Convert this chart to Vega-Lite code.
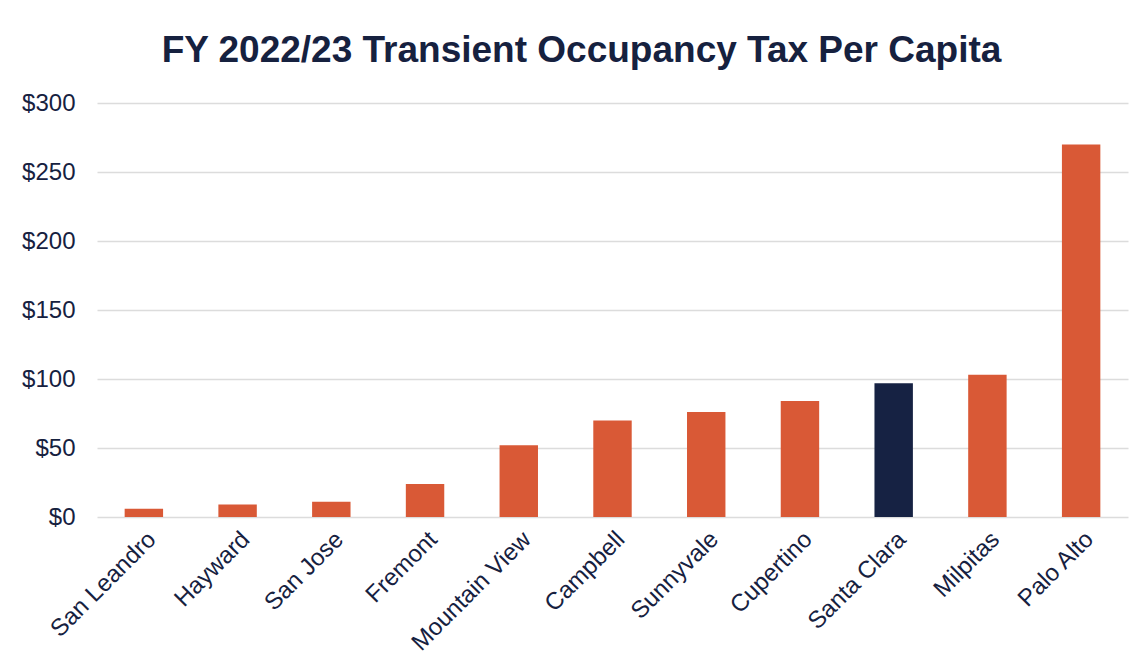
{
  "$schema": "https://vega.github.io/schema/vega-lite/v6.json",
  "width": 1031,
  "height": 414,
  "autosize": {"type": "none"},
  "padding": {"left": 97, "top": 103, "right": 19, "bottom": 155},
  "background": "white",
  "title": {
    "text": "FY 2022/23 Transient Occupancy Tax Per Capita",
    "font": "Arial",
    "fontSize": 37,
    "fontWeight": "bold",
    "color": "#16213F",
    "anchor": "middle",
    "dx": -31,
    "offset": 21
  },
  "data": {
    "values": [
      {"city": "San Leandro", "value": 6, "highlight": "no"},
      {"city": "Hayward", "value": 9, "highlight": "no"},
      {"city": "San Jose", "value": 11, "highlight": "no"},
      {"city": "Fremont", "value": 24, "highlight": "no"},
      {"city": "Mountain View", "value": 52, "highlight": "no"},
      {"city": "Campbell", "value": 70, "highlight": "no"},
      {"city": "Sunnyvale", "value": 76, "highlight": "no"},
      {"city": "Cupertino", "value": 84, "highlight": "no"},
      {"city": "Santa Clara", "value": 97, "highlight": "yes"},
      {"city": "Milpitas", "value": 103, "highlight": "no"},
      {"city": "Palo Alto", "value": 270, "highlight": "no"}
    ]
  },
  "mark": {"type": "bar"},
  "encoding": {
    "x": {
      "field": "city",
      "type": "nominal",
      "sort": null,
      "scale": {"paddingInner": 0.59, "paddingOuter": 0.295},
      "axis": {
        "title": null,
        "labelAngle": -45,
        "labelFont": "Arial",
        "labelFontSize": 24,
        "labelColor": "#16213F",
        "ticks": false,
        "domain": false,
        "labelPadding": 10
      }
    },
    "y": {
      "field": "value",
      "type": "quantitative",
      "scale": {"domain": [0, 300], "nice": false},
      "axis": {
        "title": null,
        "values": [0, 50, 100, 150, 200, 250, 300],
        "format": "$,.0f",
        "labelFont": "Arial",
        "labelFontSize": 24,
        "labelColor": "#16213F",
        "ticks": false,
        "domain": false,
        "labelPadding": 22,
        "grid": true,
        "gridColor": "#DCDCDC",
        "gridWidth": 1.5
      }
    },
    "color": {
      "field": "highlight",
      "type": "nominal",
      "scale": {"domain": ["no", "yes"], "range": ["#D95936", "#162243"]},
      "legend": null
    }
  },
  "config": {"view": {"stroke": null}}
}
